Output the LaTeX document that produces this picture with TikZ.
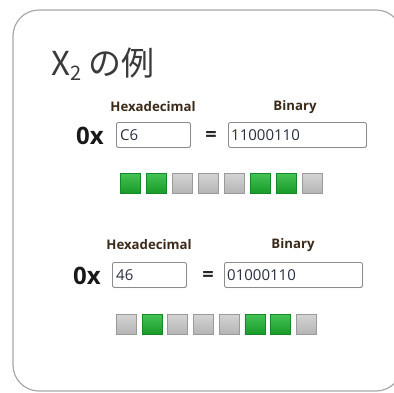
\documentclass[tikz,border=0pt]{standalone}
\usepackage{fontspec}
\setmainfont{Open Sans}
\newfontfamily\jpfont{Noto Sans CJK JP}
\usetikzlibrary{shadows}
\definecolor{frame}{HTML}{A8A8A8}
\definecolor{titlecol}{HTML}{3A3A3A}
\definecolor{labcol}{HTML}{3A2A1A}
\definecolor{boxtext}{HTML}{2A3040}
\definecolor{gbor}{HTML}{16882A}
\definecolor{gtop}{HTML}{45C255}
\definecolor{gbot}{HTML}{179A28}
\definecolor{sbor}{HTML}{9A9A9A}
\definecolor{stop}{HTML}{D4D4D4}
\definecolor{sbot}{HTML}{B4B4B4}
\tikzset{
  headlab/.style={font=\bfseries\fontsize{13.2}{14}\selectfont, text=labcol, inner sep=0pt},
  hexpre/.style={font=\bfseries\fontsize{24}{26}\selectfont, text=black!90, inner sep=0pt},
  eqsign/.style={font=\bfseries\fontsize{20}{22}\selectfont, text=black!85, inner sep=0pt},
  inbox/.style={draw=black!45, line width=0.9pt, rounded corners=2pt, fill=white,
     minimum height=25pt, inner sep=0pt, anchor=north west,
     drop shadow={shadow xshift=0.6pt, shadow yshift=-0.6pt, fill=black!25, opacity=0.5}},
  intext/.style={font=\fontsize{15}{16}\selectfont, text=boxtext, inner sep=0pt, anchor=west},
  bitOn/.style={draw=gbor, line width=0.8pt, top color=gtop, bottom color=gbot,
     minimum width=20pt, minimum height=20pt, inner sep=0pt, anchor=north west},
  bitOff/.style={draw=sbor, line width=0.8pt, top color=stop, bottom color=sbot,
     minimum width=20pt, minimum height=20pt, inner sep=0pt, anchor=north west},
}
\begin{document}
\begin{tikzpicture}[x=1pt,y=-1pt]
\useasboundingbox (0,0) rectangle (394,392);
\begin{scope}
\clip (0,0) rectangle (394,392);
\draw[frame, line width=1.2pt, rounded corners=26pt] (13,10) rectangle (402,391);
\end{scope}
\node[anchor=base west, inner sep=0pt, text=titlecol, font=\jpfont\fontsize{33}{36}\selectfont] (title) at (51,75) {X\raisebox{-0.28ex}{\fontsize{20}{22}\selectfont 2} の例};

% Row 1
\node[headlab] (hexlab1) at (153,107) {Hexadecimal};
\node[headlab] (binlab1) at (295,107) {Binary};
\node[hexpre] (pre1) at (90,136) {0x};
\node[inbox, minimum width=74pt] (hexbox1) at (116,122) {};
\node[intext] (hexval1) at ([xshift=4pt]hexbox1.west) {C6};
\node[eqsign] (eq1) at (211,136) {=};
\node[inbox, minimum width=138pt] (binbox1) at (228,122) {};
\node[intext] (binval1) at ([xshift=3pt]binbox1.west) {11000110};
\foreach \b [count=\i from 0] in {1,1,0,0,0,1,1,0}{
  \ifnum\b=1
    \node[bitOn] (r1b\i) at (120+26*\i,173) {};
  \else
    \node[bitOff] (r1b\i) at (120+26*\i,173) {};
  \fi
}

% Row 2
\node[headlab] (hexlab2) at (149,245) {Hexadecimal};
\node[headlab] (binlab2) at (293,245) {Binary};
\node[hexpre] (pre2) at (87,276) {0x};
\node[inbox, minimum width=74pt] (hexbox2) at (112,262) {};
\node[intext] (hexval2) at ([xshift=4pt]hexbox2.west) {46};
\node[eqsign] (eq2) at (208,276) {=};
\node[inbox, minimum width=138pt] (binbox2) at (224,262) {};
\node[intext] (binval2) at ([xshift=3pt]binbox2.west) {01000110};
\foreach \b [count=\i from 0] in {0,1,0,0,0,1,1,0}{
  \ifnum\b=1
    \node[bitOn] (r2b\i) at (116+25.7*\i,314) {};
  \else
    \node[bitOff] (r2b\i) at (116+25.7*\i,314) {};
  \fi
}
\end{tikzpicture}
\end{document}
